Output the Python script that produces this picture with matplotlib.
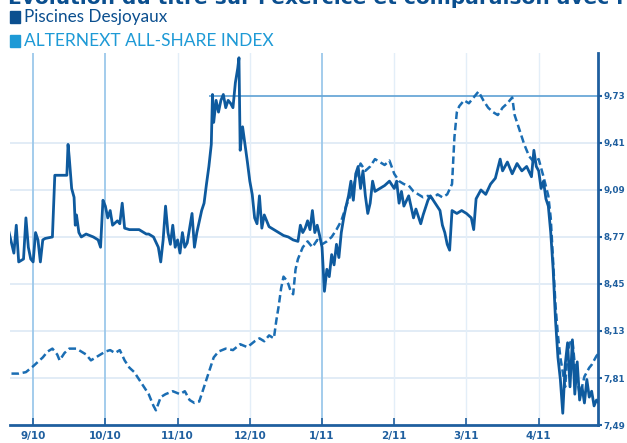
import matplotlib
matplotlib.use("Agg")
import matplotlib.pyplot as plt
from matplotlib.patches import Rectangle

# -------------------------------
# Dane
# -------------------------------
month_labels = ["9/10", "10/10", "11/10", "12/10", "1/11", "2/11", "3/11", "4/11"]
month_days = [0, 30, 60, 90, 120, 150, 180, 210]
price_ticks = [7.49, 7.81, 8.13, 8.45, 8.77, 9.09, 9.41, 9.73]
price_labels = ["7,49", "7,81", "8,13", "8,45", "8,77", "9,09", "9,41", "9,73"]

desj_days = [-10, -8, -7, -6, -4, -3, -2, -1, 0, 1, 2, 3, 4, 5, 8, 9, 14, 14.5, 15, 16,
             17, 17.5, 18, 19, 20, 22, 25, 27, 28, 29, 30, 31, 32, 33, 35, 36, 37, 38, 40, 44,
             47, 48, 50, 52, 53, 54, 55, 56, 57, 58, 59, 60, 61, 62, 63, 64, 66, 67, 68, 70,
             71, 72, 73, 74, 74.5, 75, 76, 77, 78, 79, 80, 81, 82, 83, 84, 85, 85.5, 86, 87, 88,
             89, 90, 91, 92, 93, 94, 95, 96, 98, 100, 102, 104, 106, 108, 110, 111, 112, 113, 114, 115,
             116, 117, 118, 119, 120, 121, 122, 123, 124, 125, 126, 127, 128, 129, 130, 131, 132, 133, 134, 135,
             136, 137, 138, 139, 140, 141, 142, 144, 146, 148, 150, 151, 152, 153, 154, 156, 158, 159, 161, 162,
             164, 165, 167, 169, 170, 171, 172, 173, 174, 176, 178, 180, 182, 183, 184, 186, 188, 190, 192, 194,
             195, 197, 199, 201, 203, 205, 207, 208, 209, 210, 211, 212, 213, 214, 215, 216, 217, 218, 219, 220,
             221, 222, 223, 224, 225, 226, 227, 228, 229, 230, 231, 232, 233, 234, 235]
desj_values = [8.80, 8.66, 8.85, 8.60, 8.62, 8.90, 8.70, 8.62, 8.60, 8.80, 8.75, 8.60, 8.75, 8.76, 8.77, 9.19, 9.19, 9.40, 9.31, 9.10,
               9.04, 8.85, 8.92, 8.80, 8.77, 8.79, 8.77, 8.75, 8.70, 9.02, 8.98, 8.90, 8.95, 8.85, 8.88, 8.86, 9.00, 8.83, 8.82, 8.82,
               8.79, 8.79, 8.77, 8.70, 8.60, 8.75, 8.98, 8.80, 8.72, 8.85, 8.70, 8.75, 8.66, 8.80, 8.70, 8.73, 8.93, 8.70, 8.80, 8.95,
               9.00, 9.13, 9.25, 9.40, 9.74, 9.55, 9.70, 9.62, 9.70, 9.74, 9.65, 9.70, 9.68, 9.65, 9.82, 9.92, 9.99, 9.36, 9.52, 9.40,
               9.28, 9.15, 9.06, 8.90, 8.86, 9.05, 8.83, 8.92, 8.84, 8.82, 8.80, 8.78, 8.77, 8.75, 8.74, 8.85, 8.80, 8.83, 8.88, 8.82,
               8.95, 8.80, 8.85, 8.78, 8.70, 8.40, 8.55, 8.50, 8.65, 8.58, 8.72, 8.63, 8.80, 8.90, 8.98, 9.05, 9.15, 9.02, 9.20, 9.25,
               9.10, 9.22, 9.05, 8.93, 9.00, 9.15, 9.08, 9.10, 9.12, 9.15, 9.10, 9.15, 9.00, 9.08, 8.98, 9.05, 8.90, 8.96, 8.86, 8.92,
               9.02, 9.05, 9.00, 8.95, 8.85, 8.80, 8.72, 8.68, 8.95, 8.93, 8.95, 8.93, 8.90, 8.82, 9.03, 9.09, 9.06, 9.13, 9.17, 9.30,
               9.22, 9.28, 9.20, 9.27, 9.22, 9.25, 9.18, 9.36, 9.25, 9.22, 9.10, 9.15, 9.03, 8.98, 8.80, 8.55, 8.20, 7.95, 7.80, 7.57,
               7.90, 8.05, 7.75, 8.07, 7.70, 7.92, 7.66, 7.75, 7.64, 7.80, 7.68, 7.72, 7.62, 7.66, 7.64]

index_days = [-9, -6, -3, 0, 2, 4, 6, 8, 10, 11, 13, 15, 18, 20, 22, 24, 26, 28, 30, 32,
              34, 36, 38, 40, 42, 44, 46, 48, 50, 51, 53, 55, 58, 61, 63, 65, 67, 69, 71, 73,
              75, 77, 80, 83, 86, 89, 92, 94, 96, 98, 100, 101, 102, 103, 104, 105, 106, 107, 108, 109,
              110, 111, 112, 114, 116, 118, 120, 122, 124, 126, 128, 130, 132, 134, 136, 138, 140, 142, 144, 146,
              148, 150, 152, 154, 156, 158, 160, 162, 164, 166, 168, 170, 172, 174, 175, 176, 177, 179, 181, 183,
              185, 187, 189, 191, 193, 195, 197, 199, 200, 202, 204, 206, 208, 210, 212, 214, 215, 216, 217, 218,
              219, 220, 221, 222, 223, 224, 225, 226, 227, 228, 229, 230, 231, 232, 233, 234, 235]
index_values = [7.84, 7.84, 7.85, 7.89, 7.92, 7.95, 7.99, 8.01, 7.97, 7.93, 7.98, 8.01, 8.01, 7.99, 7.97, 7.93, 7.95, 7.97, 7.99, 8.00,
                7.98, 8.00, 7.93, 7.88, 7.85, 7.80, 7.75, 7.70, 7.62, 7.59, 7.68, 7.70, 7.72, 7.70, 7.72, 7.66, 7.64, 7.65, 7.75, 7.85,
                7.95, 7.99, 8.01, 8.00, 8.04, 8.02, 8.06, 8.08, 8.06, 8.10, 8.08, 8.20, 8.30, 8.42, 8.50, 8.48, 8.45, 8.40, 8.38, 8.55,
                8.62, 8.66, 8.70, 8.74, 8.70, 8.75, 8.72, 8.74, 8.77, 8.82, 8.88, 8.98, 9.06, 9.17, 9.27, 9.22, 9.25, 9.30, 9.28, 9.26,
                9.29, 9.20, 9.15, 9.13, 9.12, 9.08, 9.06, 9.04, 9.05, 9.03, 9.06, 9.04, 9.06, 9.13, 9.45, 9.62, 9.66, 9.70, 9.68, 9.72,
                9.76, 9.70, 9.65, 9.62, 9.60, 9.65, 9.68, 9.72, 9.60, 9.50, 9.40, 9.32, 9.28, 9.30, 9.18, 9.05, 8.90, 8.60, 8.30, 8.10,
                7.95, 7.85, 7.75, 7.98, 8.05, 8.07, 7.90, 7.80, 7.70, 7.75, 7.82, 7.85, 7.88, 7.90, 7.93, 7.96, 7.98]

DARK = "#0b4f8f"
LIGHT = "#1e9ad6"
AXIS = "#1f5f9f"

# -------------------------------
# Wykres
# -------------------------------
fig = plt.figure(figsize=(6.27, 4.43), dpi=100)
ax = fig.add_axes([0.016, 0.0406, 0.938, 0.839])

# siatka
for v in price_ticks[1:-1]:
    ax.axhline(v, color="#dde9f5", lw=1.2, zorder=0)
ax.hlines(price_ticks[-1], 73, 235, color="#6aa8d8", lw=1.3, zorder=1)
for i, d in enumerate(month_days):
    strong = i in (0, 1, 4)
    ax.axvline(d, color="#9cc8ea" if strong else "#e3eef8", lw=1.3 if strong else 1.0, zorder=0)

ax.plot(index_days, index_values, color="#1a6db3", lw=1.8, ls=(0, (3, 1.5)), zorder=2)
ax.plot(desj_days, desj_values, color="#0e5a9e", lw=2.0, zorder=3)

ax.set_xlim(-9.6, 234.7)
ax.set_ylim(7.49, 10.02)

for side in ["left", "top"]:
    ax.spines[side].set_visible(False)
for side in ["right", "bottom"]:
    ax.spines[side].set_color(AXIS)
    ax.spines[side].set_linewidth(2)

ax.yaxis.tick_right()
ax.set_yticks(price_ticks)
ax.set_yticklabels(price_labels)
ax.set_xticks(month_days)
ax.set_xticklabels(month_labels)
ax.tick_params(axis="y", direction="out", length=3, width=1.5, color=AXIS,
               labelsize=6.3, labelcolor=AXIS, pad=1)
ax.tick_params(axis="x", direction="in", length=5, width=1.2, color=AXIS,
               labelsize=7.5, labelcolor=AXIS, pad=4)
for lab in ax.get_xticklabels() + ax.get_yticklabels():
    lab.set_fontweight("bold")

# tytuł (ucięty u góry) i legenda
fig.text(0.012, 0.99, "Évolution du titre sur l'exercice et comparaison avec l'indice",
         fontsize=14.5, fontweight="bold", color=DARK, va="baseline", ha="left")
fig.patches.append(Rectangle((10 / 627, 1 - 23 / 443), 10 / 627, 12 / 443,
                             transform=fig.transFigure, color=DARK))
fig.patches.append(Rectangle((10 / 627, 1 - 47 / 443), 10 / 627, 12 / 443,
                             transform=fig.transFigure, color=LIGHT))
fig.text(24 / 627, 1 - 17 / 443, "Piscines Desjoyaux", fontsize=12.3, family="Lato",
         color=DARK, va="center", ha="left")
fig.text(24 / 627, 1 - 41 / 443, "ALTERNEXT ALL-SHARE INDEX", fontsize=12.5, family="Lato",
         color=LIGHT, va="center", ha="left")

fig.savefig("out.png", dpi=100)
